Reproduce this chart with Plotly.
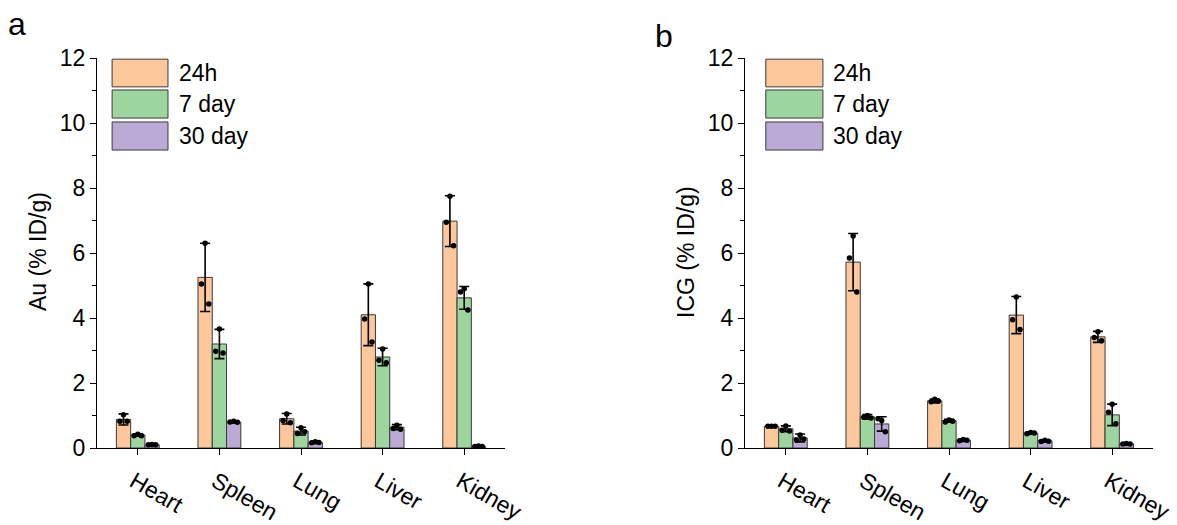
import plotly.graph_objects as go

organs = ["Heart", "Spleen", "Lung", "Liver", "Kidney"]
series = ["24h", "7 day", "30 day"]

# Panel a: Au (% ID/g)
au_24h = [0.88, 5.25, 0.90, 4.10, 6.98]
au_7d = [0.40, 3.20, 0.52, 2.80, 4.62]
au_30d = [0.10, 0.80, 0.17, 0.64, 0.05]
au_24h_err = [0.17, 1.05, 0.16, 0.95, 0.78]
au_7d_err = [0.04, 0.45, 0.12, 0.27, 0.35]
au_30d_err = [0.02, 0.04, 0.03, 0.08, 0.01]
au_24h_pts = [[0.82, 1.02, 0.82], [5.05, 6.30, 4.43], [0.85, 1.05, 0.78], [3.97, 5.05, 3.26], [6.95, 7.75, 6.22]]
au_7d_pts = [[0.38, 0.42, 0.38], [2.98, 3.66, 2.92], [0.45, 0.62, 0.50], [2.70, 3.05, 2.62], [4.80, 4.90, 4.25]]
au_30d_pts = [[0.10, 0.11, 0.10], [0.80, 0.82, 0.79], [0.16, 0.19, 0.17], [0.60, 0.70, 0.58], [0.05, 0.06, 0.05]]

# Panel b: ICG (% ID/g)
icg_24h = [0.67, 5.72, 1.45, 4.09, 3.42]
icg_7d = [0.59, 0.96, 0.84, 0.46, 1.02]
icg_30d = [0.31, 0.74, 0.24, 0.22, 0.13]
icg_24h_err = [0.02, 0.88, 0.06, 0.57, 0.17]
icg_7d_err = [0.09, 0.07, 0.04, 0.03, 0.33]
icg_30d_err = [0.12, 0.22, 0.04, 0.03, 0.02]
icg_24h_pts = [[0.67, 0.67, 0.67], [5.85, 6.52, 4.80], [1.42, 1.50, 1.45], [3.95, 4.65, 3.65], [3.40, 3.58, 3.30]]
icg_7d_pts = [[0.55, 0.68, 0.52], [0.95, 1.00, 0.92], [0.80, 0.86, 0.82], [0.44, 0.48, 0.46], [1.10, 1.35, 0.75]]
icg_30d_pts = [[0.25, 0.40, 0.28], [0.90, 0.85, 0.50], [0.22, 0.26, 0.24], [0.20, 0.24, 0.21], [0.12, 0.14, 0.12]]

colors = ["#FBC79B", "#9CD59E", "#BBAAD6"]
edge = "#3a3a3a"
bar_w = 0.175
offsets = [-bar_w, 0.0, bar_w]
jitter = [-0.045, 0.0, 0.045]
FONT = "Liberation Sans, Arial, sans-serif"

fig = go.Figure()

panels = [
    ("x", "y", [au_24h, au_7d, au_30d], [au_24h_err, au_7d_err, au_30d_err],
     [au_24h_pts, au_7d_pts, au_30d_pts]),
    ("x2", "y2", [icg_24h, icg_7d, icg_30d], [icg_24h_err, icg_7d_err, icg_30d_err],
     [icg_24h_pts, icg_7d_pts, icg_30d_pts]),
]

for xa, ya, vals, errs, pts in panels:
    for s in range(3):
        xs = [i + offsets[s] for i in range(len(organs))]
        fig.add_trace(go.Bar(
            x=xs, y=vals[s], width=bar_w, xaxis=xa, yaxis=ya,
            marker=dict(color=colors[s], line=dict(color=edge, width=1)),
            error_y=dict(type="data", array=errs[s], visible=True,
                         color="black", thickness=1.6, width=5),
            showlegend=False, hoverinfo="skip",
        ))
    for s in range(3):
        px, py = [], []
        for i in range(len(organs)):
            for k, v in enumerate(pts[s][i]):
                px.append(i + offsets[s] + jitter[k])
                py.append(v)
        fig.add_trace(go.Scatter(
            x=px, y=py, mode="markers", xaxis=xa, yaxis=ya,
            marker=dict(color="black", size=5.5),
            showlegend=False, hoverinfo="skip",
        ))

y0 = 1 - 448 / 525
y1 = 1 - 58 / 525
xdom1 = [97 / 1177, 505 / 1177]
xdom2 = [745 / 1177, 1153 / 1177]

xaxis_common = dict(
    range=[-0.5, 4.5], tickmode="array", tickvals=list(range(len(organs))),
    ticktext=organs, tickangle=30, ticks="outside", ticklen=6, tickwidth=1.3,
    tickcolor="black", showline=True, linecolor="black", linewidth=1.3,
    showgrid=False, zeroline=False, automargin=False,
    ticklabelshift=-4, ticklabelstandoff=4,
    tickfont=dict(family=FONT, size=23, color="black"),
)
yaxis_common = dict(
    range=[0, 12], tickmode="array", tickvals=[0, 2, 4, 6, 8, 10, 12],
    ticks="outside", ticklen=6, tickwidth=1.3, tickcolor="black",
    minor=dict(tickvals=[1, 3, 5, 7, 9, 11], ticks="outside", ticklen=4,
               tickwidth=1.3, tickcolor="black"),
    showline=True, linecolor="black", linewidth=1.3,
    showgrid=False, zeroline=False, automargin=False,
    tickfont=dict(family=FONT, size=23, color="black"),
)

fig.update_layout(
    template="none",
    width=1177, height=525,
    margin=dict(l=0, r=0, t=0, b=0, autoexpand=False),
    paper_bgcolor="white", plot_bgcolor="white",
    barmode="overlay",
    xaxis=dict(domain=xdom1, anchor="y", **xaxis_common),
    yaxis=dict(domain=[y0, y1], anchor="x", **yaxis_common),
    xaxis2=dict(domain=xdom2, anchor="y2", **xaxis_common),
    yaxis2=dict(domain=[y0, y1], anchor="x2", **yaxis_common),
)

# Legends (boxes + labels) for each panel
legend_pos = [("x", "y", 0.037, 0.174, 0.196), ("x2", "y2", 0.051, 0.191, 0.21)]
box_rows = [(0.926, 0.997), (0.846, 0.918), (0.764, 0.836)]
for xa, ya, bx0, bx1, tx in legend_pos:
    for s in range(3):
        r0, r1 = box_rows[s]
        fig.add_shape(type="rect", xref=xa + " domain", yref=ya + " domain",
                      x0=bx0, x1=bx1, y0=r0, y1=r1,
                      fillcolor=colors[s], line=dict(color=edge, width=1))
        fig.add_annotation(xref=xa + " domain", yref=ya + " domain",
                           x=tx, y=(r0 + r1) / 2, text=series[s], showarrow=False,
                           xanchor="left", yanchor="middle",
                           font=dict(family=FONT, size=23, color="black"))

# Axis titles
fig.add_annotation(xref="paper", yref="paper", x=38 / 1177, y=1 - 252 / 525,
                   text="Au (% ID/g)", textangle=-90, showarrow=False,
                   xanchor="center", yanchor="middle",
                   font=dict(family=FONT, size=23, color="black"))
fig.add_annotation(xref="paper", yref="paper", x=686 / 1177, y=1 - 252 / 525,
                   text="ICG (% ID/g)", textangle=-90, showarrow=False,
                   xanchor="center", yanchor="middle",
                   font=dict(family=FONT, size=23, color="black"))

# Panel labels
fig.add_annotation(xref="paper", yref="paper", x=17 / 1177, y=1 - 24 / 525,
                   text="a", showarrow=False, xanchor="center", yanchor="middle",
                   font=dict(family=FONT, size=32, color="black"))
fig.add_annotation(xref="paper", yref="paper", x=664 / 1177, y=1 - 36 / 525,
                   text="b", showarrow=False, xanchor="center", yanchor="middle",
                   font=dict(family=FONT, size=32, color="black"))

fig.write_html("out.html")
